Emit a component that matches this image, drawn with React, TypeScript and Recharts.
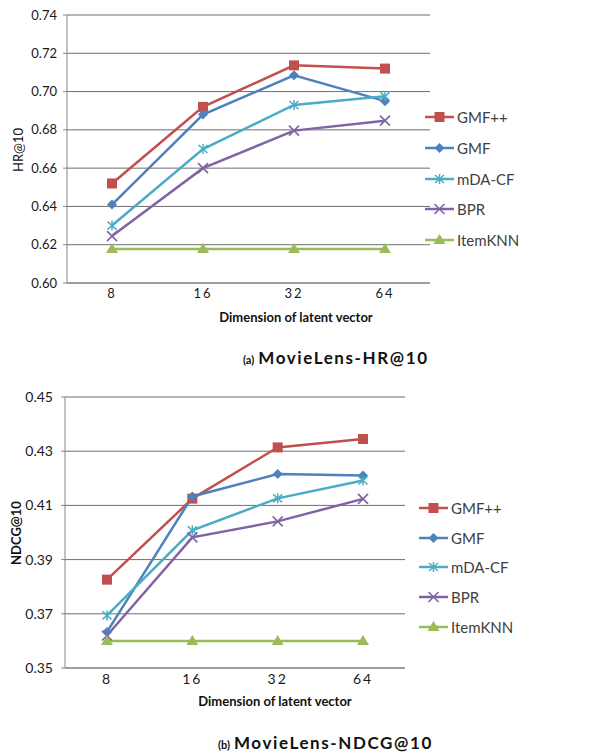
import React from "react";
import { LineChart, Line, XAxis, YAxis, CartesianGrid, Legend } from "recharts";

const dims = ["8", "16", "32", "64"];

// (a) HR@10
const hrGmfpp = [0.652, 0.692, 0.7137, 0.712];
const hrGmf = [0.641, 0.688, 0.7085, 0.695];
const hrMdaCf = [0.63, 0.67, 0.693, 0.6975];
const hrBpr = [0.6245, 0.66, 0.6796, 0.6848];
const hrItemKnn = [0.6177, 0.6177, 0.6177, 0.6177];
const hrTicks = [0.6, 0.62, 0.64, 0.66, 0.68, 0.7, 0.72, 0.74];

// (b) NDCG@10
const ndcgGmfpp = [0.3826, 0.4125, 0.4314, 0.4345];
const ndcgGmf = [0.3633, 0.4133, 0.4216, 0.421];
const ndcgMdaCf = [0.3694, 0.4008, 0.4126, 0.4192];
const ndcgBpr = [0.362, 0.3982, 0.4041, 0.4124];
const ndcgItemKnn = [0.36, 0.36, 0.36, 0.36];
const ndcgTicks = [0.35, 0.37, 0.39, 0.41, 0.43, 0.45];

const SERIES = [
  { key: "gmfpp", name: "GMF++", color: "#C0504D", marker: "square" },
  { key: "gmf", name: "GMF", color: "#4F81BD", marker: "diamond" },
  { key: "mdacf", name: "mDA-CF", color: "#4BACC6", marker: "star" },
  { key: "bpr", name: "BPR", color: "#8064A2", marker: "x" },
  { key: "itemknn", name: "ItemKNN", color: "#9BBB59", marker: "triangle" },
];

const hrData = dims.map((d, i) => ({
  dim: d,
  gmfpp: hrGmfpp[i],
  gmf: hrGmf[i],
  mdacf: hrMdaCf[i],
  bpr: hrBpr[i],
  itemknn: hrItemKnn[i],
}));

const ndcgData = dims.map((d, i) => ({
  dim: d,
  gmfpp: ndcgGmfpp[i],
  gmf: ndcgGmf[i],
  mdacf: ndcgMdaCf[i],
  bpr: ndcgBpr[i],
  itemknn: ndcgItemKnn[i],
}));

const FONT = "Lato, 'Open Sans', sans-serif";

function Marker({ cx, cy, kind, color }: { cx: number; cy: number; kind: string; color: string }) {
  if (cx == null || cy == null) return null;
  switch (kind) {
    case "square":
      return <rect x={cx - 5} y={cy - 5} width={10} height={10} fill={color} />;
    case "diamond":
      return (
        <polygon
          points={`${cx},${cy - 5} ${cx + 5},${cy} ${cx},${cy + 5} ${cx - 5},${cy}`}
          fill={color}
        />
      );
    case "star":
      return (
        <g stroke={color} strokeWidth={1.5}>
          <line x1={cx} y1={cy - 5} x2={cx} y2={cy + 5} />
          <line x1={cx - 4.5} y1={cy - 4} x2={cx + 4.5} y2={cy + 4} />
          <line x1={cx - 4.5} y1={cy + 4} x2={cx + 4.5} y2={cy - 4} />
        </g>
      );
    case "x":
      return (
        <g stroke={color} strokeWidth={1.6}>
          <line x1={cx - 5} y1={cy - 5} x2={cx + 5} y2={cy + 5} />
          <line x1={cx - 5} y1={cy + 5} x2={cx + 5} y2={cy - 5} />
        </g>
      );
    default:
      return (
        <polygon
          points={`${cx},${cy - 6} ${cx + 6},${cy + 4} ${cx - 6},${cy + 4}`}
          fill={color}
        />
      );
  }
}

function LegendBox({ gap }: { gap: number }) {
  return (
    <div style={{ fontFamily: FONT }}>
      {SERIES.map((s) => (
        <div
          key={s.key}
          style={{ display: "flex", alignItems: "center", height: gap }}
        >
          <svg width={29} height={14}>
            <line x1={0} y1={7} x2={29} y2={7} stroke={s.color} strokeWidth={2.5} />
            <Marker cx={14.5} cy={7} kind={s.marker} color={s.color} />
          </svg>
          <span style={{ marginLeft: 3, fontSize: 15, color: "#404040" }}>{s.name}</span>
        </div>
      ))}
    </div>
  );
}

function Panel({
  data,
  ticks,
  top,
  height,
  margin,
  yWidth,
  tickFont,
  pad,
  legendPos,
  legendGap,
}: any) {
  return (
    <div style={{ position: "absolute", left: 0, top }}>
      <LineChart width={610} height={height} data={data} margin={margin}>
        <CartesianGrid vertical={false} stroke="#6e6e6e" strokeWidth={1} />
        <XAxis
          dataKey="dim"
          height={30}
          padding={{ left: pad, right: pad }}
          tickSize={0}
          tickMargin={6}
          axisLine={{ stroke: "#868686" }}
          tick={{ fill: "#1a1a1a", fontSize: tickFont, fontFamily: FONT, letterSpacing: 2 }}
        />
        <YAxis
          width={yWidth}
          domain={[ticks[0], ticks[ticks.length - 1]]}
          ticks={ticks}
          interval={0}
          tickSize={4}
          tickMargin={yWidth === 67 ? 6 : 8}
          tickFormatter={(v: number) => v.toFixed(2)}
          axisLine={{ stroke: "#868686" }}
          tickLine={{ stroke: "#868686" }}
          tick={{ fill: "#1a1a1a", fontSize: tickFont, fontFamily: FONT }}
        />
        <Legend
          layout="vertical"
          align="center"
          verticalAlign="middle"
          wrapperStyle={{ left: legendPos[0], top: legendPos[1], width: 190 }}
          content={() => <LegendBox gap={legendGap} />}
        />
        {SERIES.map((s) => (
          <Line
            key={s.key}
            dataKey={s.key}
            name={s.name}
            stroke={s.color}
            strokeWidth={2.5}
            isAnimationActive={false}
            dot={(p: any) => (
              <Marker key={`${s.key}-${p.index}`} cx={p.cx} cy={p.cy} kind={s.marker} color={s.color} />
            )}
            activeDot={false}
          />
        ))}
      </LineChart>
    </div>
  );
}

function Text({ x, y, children, style, rotate }: any) {
  return (
    <div
      style={{
        position: "absolute",
        left: x,
        top: y,
        transform: `translate(-50%, -50%)${rotate ? " rotate(-90deg)" : ""}`,
        whiteSpace: "nowrap",
        fontFamily: FONT,
        color: "#111",
        ...style,
      }}
    >
      {children}
    </div>
  );
}

function Caption({ x, y, tag, title }: any) {
  return (
    <div
      style={{
        position: "absolute",
        left: x,
        top: y,
        transform: "translateY(-50%)",
        whiteSpace: "nowrap",
        fontFamily: FONT,
        color: "#111",
        fontWeight: 700,
      }}
    >
      <span style={{ fontSize: 11, marginRight: 4 }}>{tag}</span>
      <span style={{ fontSize: 17, letterSpacing: 1.6 }}>{title}</span>
    </div>
  );
}

export default function App() {
  return (
    <div
      style={{
        position: "absolute",
        left: 0,
        top: 0,
        width: 610,
        height: 752,
        background: "#fff",
        overflow: "hidden",
      }}
    >
      <Panel
        data={hrData}
        ticks={hrTicks}
        top={0}
        height={315}
        margin={{ top: 15, right: 180, bottom: 2, left: 0 }}
        yWidth={67}
        tickFont={13}
        pad={45}
        legendPos={[425, 102]}
        legendGap={30.7}
      />
      <Text x={18} y={150} rotate style={{ fontSize: 13 }}>HR@10</Text>
      <Text x={296} y={317} style={{ fontSize: 13, fontWeight: 700 }}>Dimension of latent vector</Text>
      <Caption x={243} y={357} tag="(a)" title="MovieLens-HR@10" />

      <Panel
        data={ndcgData}
        ticks={ndcgTicks}
        top={380}
        height={320}
        margin={{ top: 17, right: 205, bottom: 2, left: 0 }}
        yWidth={65}
        tickFont={14}
        pad={42}
        legendPos={[419, 113.5]}
        legendGap={29.6}
      />
      <Text x={16} y={533} rotate style={{ fontSize: 13, fontWeight: 700 }}>NDCG@10</Text>
      <Text x={275} y={701} style={{ fontSize: 13, fontWeight: 700 }}>Dimension of latent vector</Text>
      <Caption x={218} y={742} tag="(b)" title="MovieLens-NDCG@10" />
    </div>
  );
}
